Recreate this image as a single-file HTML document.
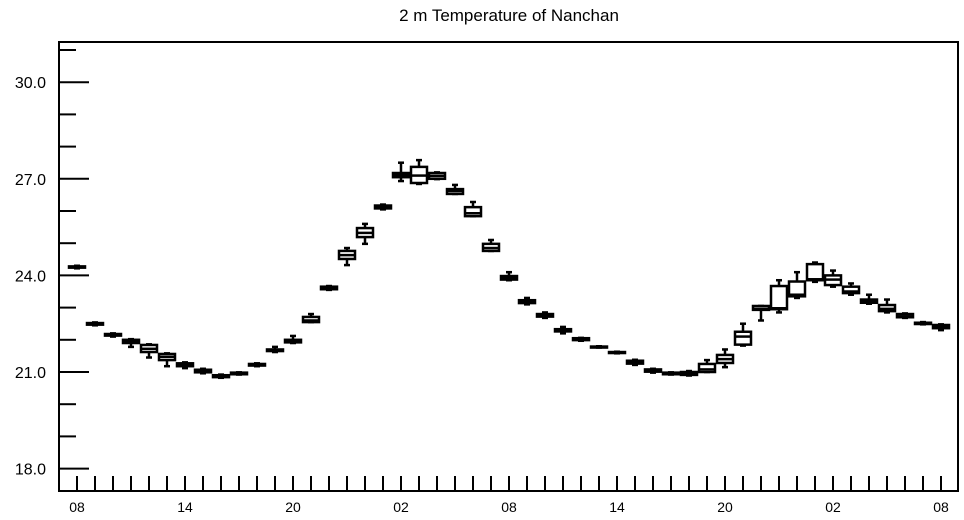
<!DOCTYPE html>
<html><head><meta charset="utf-8"><style>
html,body{margin:0;padding:0;background:#fff;}
svg{display:block;font-family:"Liberation Sans",sans-serif;}
</style></head><body>
<svg id="chart" width="964" height="520" viewBox="0 0 964 520">
<text x="509" y="21" text-anchor="middle" font-size="17">2 m Temperature of Nanchan</text>
<rect x="59" y="42" width="899" height="449" fill="none" stroke="#000" stroke-width="2"/>
<g id="yaxis"></g>
<g id="xaxis"></g>
<g id="boxes"></g>
</svg>
<script>
const xLabels = ["08","14","20","02","08","14","20","02","08"];
const yTicks = [18, 21, 24, 27, 30];
const mins = [24.22,22.45,22.10,21.78,21.45,21.18,21.12,20.96,20.82,20.92,21.18,21.62,21.90,22.55,23.55,24.32,24.98,26.05,26.93,26.84,26.99,26.53,25.84,24.76,23.85,23.10,22.68,22.20,21.97,21.76,21.58,21.22,20.98,20.92,20.89,21.00,21.15,21.82,22.60,22.85,23.30,23.80,23.65,23.40,23.12,22.85,22.68,22.48,22.30];
const q1s  = [24.24,22.47,22.13,21.90,21.62,21.37,21.18,20.99,20.84,20.93,21.20,21.65,21.92,22.55,23.57,24.51,25.19,26.08,27.05,26.87,27.00,26.53,25.84,24.76,23.87,23.14,22.72,22.26,21.99,21.77,21.59,21.26,21.01,20.93,20.91,21.00,21.28,21.85,22.93,22.95,23.35,23.85,23.70,23.45,23.15,22.89,22.70,22.49,22.36];
const meds = [24.26,22.49,22.15,21.95,21.72,21.47,21.22,21.02,20.86,20.95,21.22,21.67,21.96,22.60,23.60,24.63,25.32,26.12,27.12,27.10,27.09,26.62,25.93,24.85,23.92,23.18,22.76,22.30,22.02,21.78,21.60,21.30,21.05,20.96,20.95,21.08,21.40,22.10,22.96,22.98,23.40,23.88,23.87,23.50,23.20,22.96,22.73,22.50,22.41];
const q3s  = [24.28,22.52,22.18,22.00,21.84,21.56,21.27,21.07,20.90,20.98,21.25,21.70,22.00,22.71,23.65,24.76,25.47,26.17,27.18,27.37,27.18,26.68,26.12,24.98,23.98,23.23,22.80,22.33,22.05,21.79,21.62,21.35,21.08,20.98,21.00,21.25,21.53,22.25,23.05,23.67,23.81,24.35,24.00,23.65,23.25,23.08,22.80,22.53,22.46];
const maxs = [24.30,22.54,22.20,22.02,21.86,21.58,21.30,21.10,20.92,20.99,21.27,21.78,22.12,22.80,23.67,24.85,25.60,26.20,27.50,27.58,27.20,26.81,26.28,25.10,24.10,23.30,22.85,22.40,22.06,21.80,21.63,21.38,21.10,20.99,21.03,21.37,21.70,22.50,23.05,23.85,24.10,24.40,24.15,23.75,23.40,23.25,22.82,22.55,22.48];

const NS = "http://www.w3.org/2000/svg";
function yS(v){ return 372 - (v - 21) * 32.2; }
function xS(i){ return 77 + i * 18; }
function mk(tag, attrs, parent){ const e = document.createElementNS(NS, tag); for (const k in attrs) e.setAttribute(k, attrs[k]); parent.appendChild(e); return e; }

const ya = document.getElementById("yaxis");
for (let v = 18; v <= 31; v++) {
  const major = yTicks.includes(v);
  const l = mk("line", {x1:60, x2: major ? 89 : 76, y1:yS(v), y2:yS(v), stroke:"#000", "stroke-width":2}, ya);
  
  
}
yTicks.forEach(v => {
  const t = mk("text", {x:46, y:yS(v) + 6, "text-anchor":"end", "font-size":16}, ya);
  t.textContent = v.toFixed(1);
  
  
});

const xa = document.getElementById("xaxis");
for (let i = 0; i < meds.length; i++) {
  const l = mk("line", {x1:xS(i), x2:xS(i), y1:476, y2:491, stroke:"#000", "stroke-width":2}, xa);
  
  
}
xLabels.forEach((s, k) => {
  const t = mk("text", {x:xS(k * 6), y:512, "text-anchor":"middle", "font-size":14}, xa);
  t.textContent = s;
  
  
});

const bx = document.getElementById("boxes");
for (let i = 0; i < meds.length; i++) {
  const g = mk("g", {stroke:"#000", "stroke-width":2.5, fill:"#fff"}, bx);
  
  
  const x = xS(i);
  mk("line", {x1:x, x2:x, y1:yS(maxs[i]), y2:yS(q3s[i])}, g);
  mk("line", {x1:x, x2:x, y1:yS(q1s[i]), y2:yS(mins[i])}, g);
  mk("line", {x1:x-3, x2:x+3, y1:yS(maxs[i]), y2:yS(maxs[i])}, g);
  mk("line", {x1:x-3, x2:x+3, y1:yS(mins[i]), y2:yS(mins[i])}, g);
  const top = yS(q3s[i]), bot = yS(q1s[i]);
  mk("rect", {x:x-8, y:top, width:16, height:Math.max(bot - top, 1)}, g);
  mk("line", {x1:x-8, x2:x+8, y1:yS(meds[i]), y2:yS(meds[i])}, g);
}
</script>
</body></html>
